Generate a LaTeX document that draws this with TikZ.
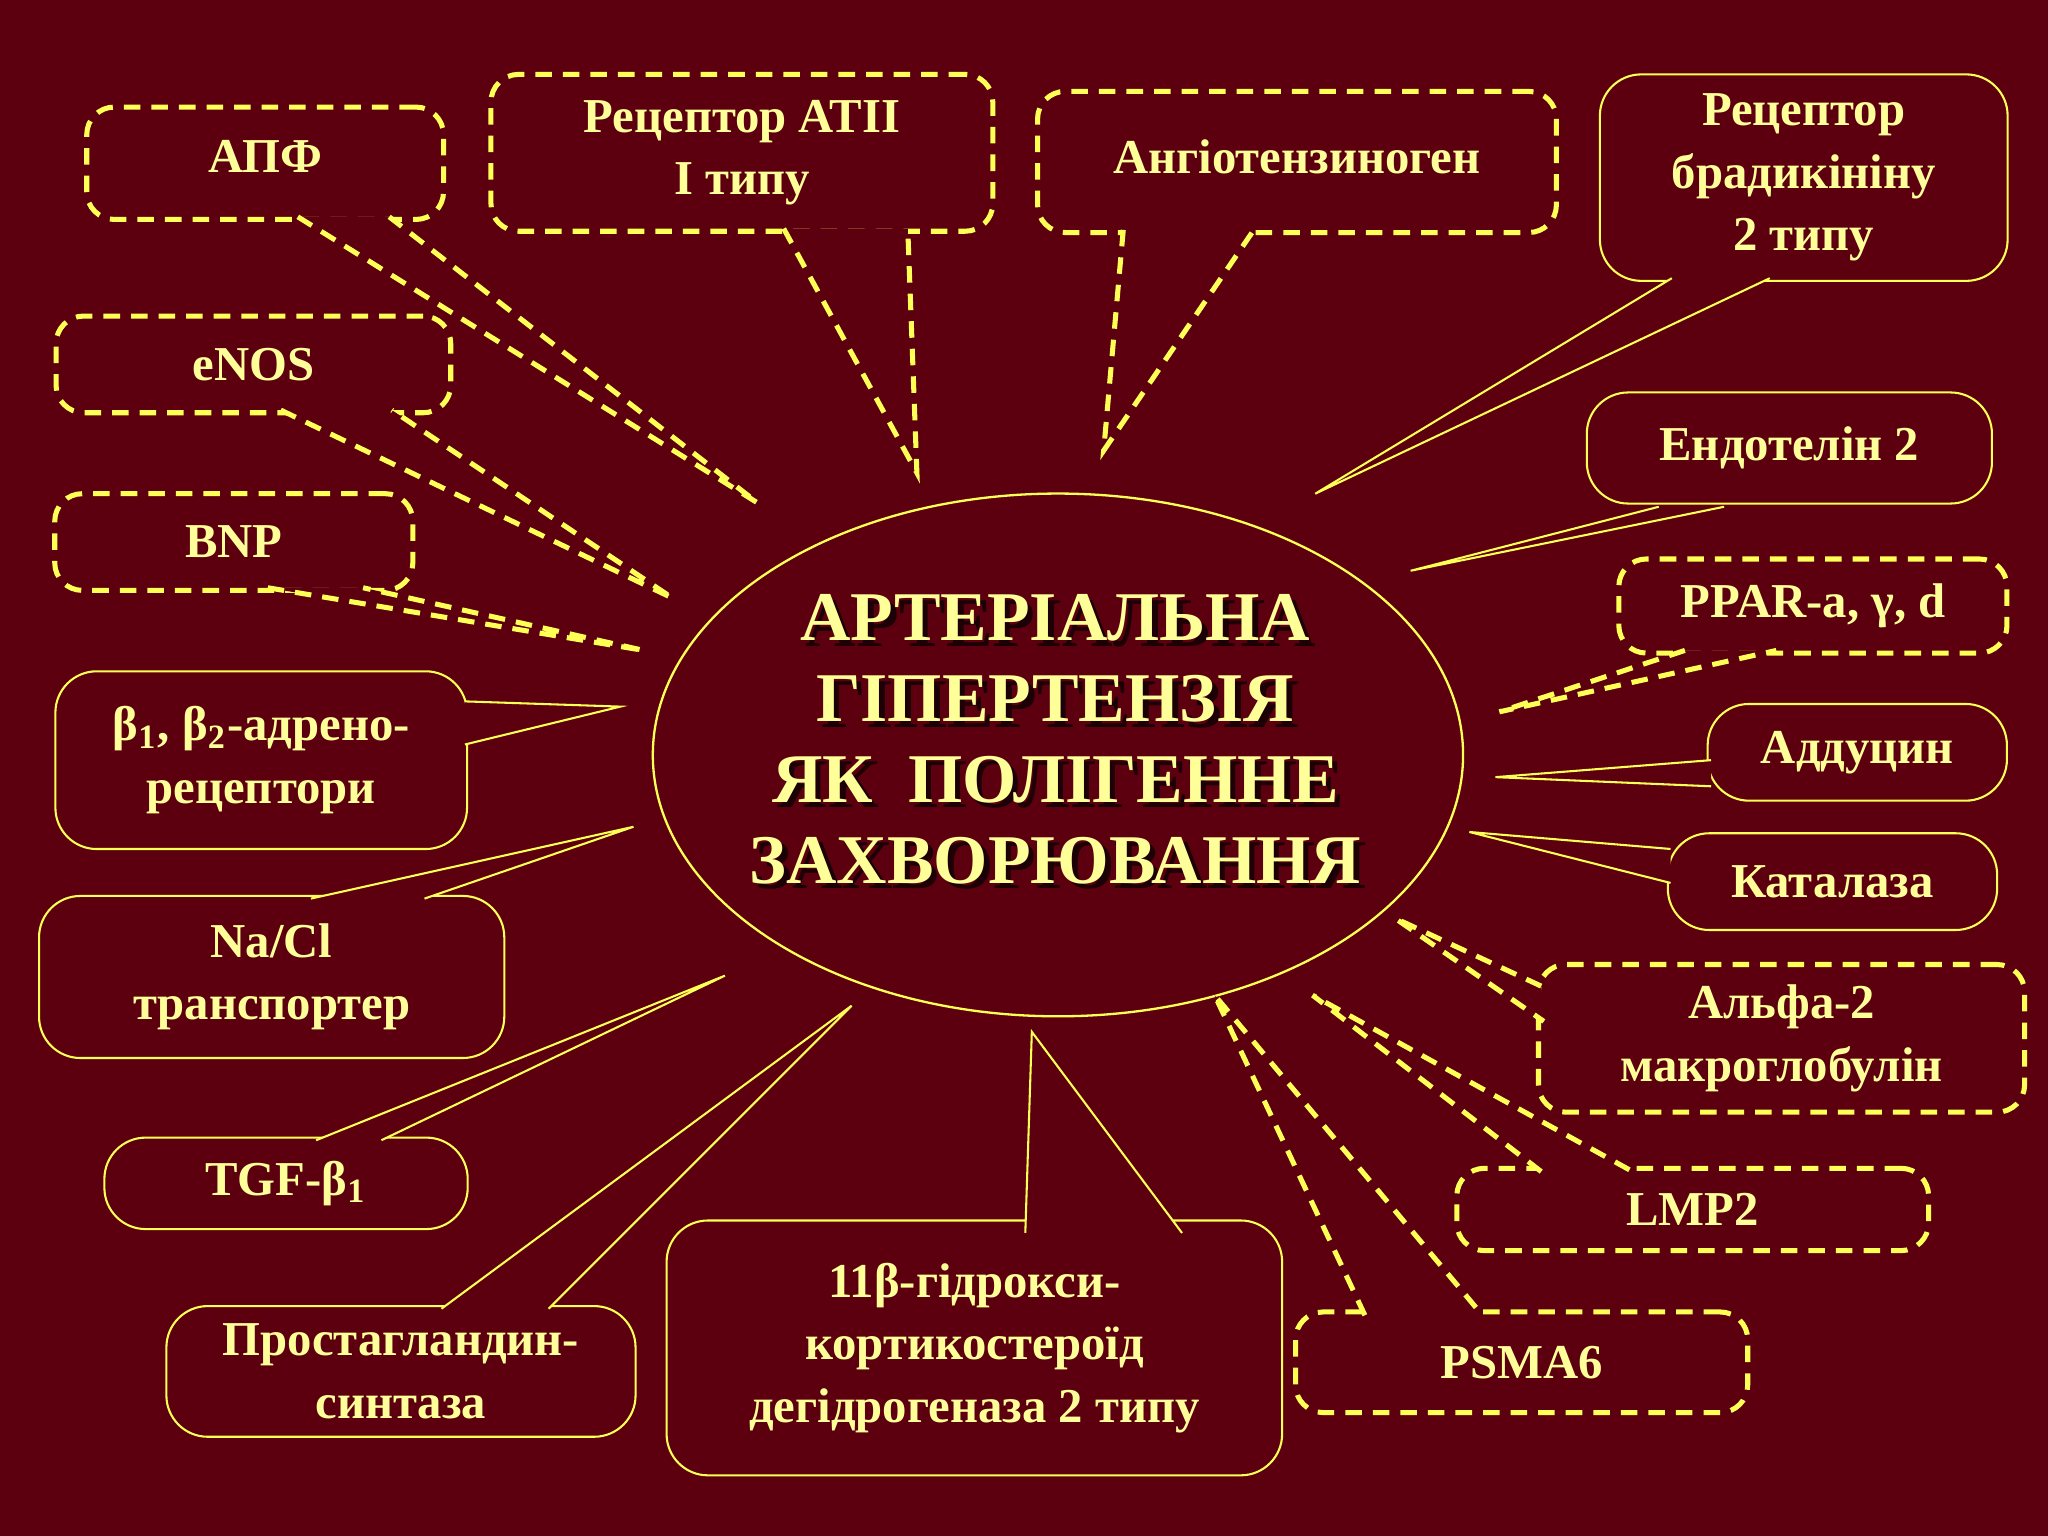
\documentclass[tikz,border=0pt]{standalone}
\usepackage{fontspec}
\setmainfont{Liberation Serif}
\usetikzlibrary{shapes.geometric}
\definecolor{bgc}{HTML}{5C0010}
\definecolor{yl}{HTML}{FFFF55}
\definecolor{tx}{HTML}{FFFF99}
\tikzset{
 sbox/.style={draw=yl, line width=0.45pt, rounded corners=9pt, fill=bgc, text=tx, font=\bfseries\fontsize{10.6}{13.6}\selectfont, align=center, inner sep=0pt},
 dbox/.style={sbox, line width=1.1pt, dash pattern=on 3.6pt off 2.4pt, rounded corners=6pt},
 sl/.style={draw=yl, line width=0.45pt},
 dl/.style={draw=yl, line width=1.1pt, dash pattern=on 3.6pt off 2.4pt},
}
\newcommand\mytail[4]{\fill[bgc] #2--#3--#4--cycle; \draw[#1] #2--#3--#4;}
\begin{document}
\begin{tikzpicture}[x=0.01cm,y=-0.01cm]
\fill[bgc] (0,0) rectangle (1568,1176);
\useasboundingbox (0,0) rectangle (1568,1176);
% centre
\node[draw=yl, line width=0.5pt, ellipse, minimum width=6.2cm, minimum height=4.0cm, inner sep=0pt] (c) at (810,578) {};
\foreach \s/\c in {1.2pt/black!70!bgc,0pt/tx}{
\node[text=\c, font=\bfseries\fontsize{15.2}{17.6}\selectfont, align=center, xshift=\s, yshift=-\s] (ct) at (808,566) {АРТЕРІАЛЬНА\\ГІПЕРТЕНЗІЯ\\ЯК\ \ ПОЛІГЕННЕ\\ЗАХВОРЮВАННЯ};}
% boxes
\node[dbox, minimum width=2.73cm, minimum height=0.86cm] (apf) at (203,125) {\raisebox{3pt}{АПФ}};
\node[dbox, minimum width=3.84cm, minimum height=1.2cm] (at2) at (568,117) {Рецептор АТІІ\\І типу};
\node[dbox, minimum width=3.97cm, minimum height=1.08cm] (ang) at (993,124) {Ангіотензиноген\\[-0.4cm]\mbox{}};
\node[sbox, minimum width=3.12cm, minimum height=1.58cm] (brad) at (1381,136) {Рецептор\\брадикініну\\2 типу};
\node[dbox, minimum width=3.02cm, minimum height=0.74cm] (enos) at (194,279) {eNOS};
\node[dbox, minimum width=2.74cm, minimum height=0.74cm] (bnp) at (179,415) {BNP};
\node[sbox, minimum width=3.15cm, minimum height=1.36cm] (beta) at (200,582) {β\textsubscript{1}, β\textsubscript{2}-адрено-\\рецептори};
\node[sbox, minimum width=3.56cm, minimum height=1.24cm] (nacl) at (208,748) {Na/Cl\\транспортер};
\node[sbox, minimum width=2.78cm, minimum height=0.70cm] (tgf) at (219,906) {TGF-β\textsubscript{1}};
\node[sbox, minimum width=3.59cm, minimum height=1.0cm] (pros) at (307,1050) {Простагландин-\\синтаза};
\node[sbox, minimum width=4.71cm, minimum height=1.95cm] (hsd) at (746,1032) {11β-гідрокси-\\кортикостероїд\\дегідрогеназа 2 типу};
\node[dbox, minimum width=3.46cm, minimum height=0.77cm] (psma) at (1165,1043) {PSMA6};
\node[dbox, minimum width=3.61cm, minimum height=0.63cm] (lmp) at (1296,926) {\raisebox{-5pt}{LMP2}};
\node[dbox, minimum width=3.72cm, minimum height=1.13cm] (alfa) at (1364,795) {Альфа-2\\макроглобулін};
\node[sbox, minimum width=2.52cm, minimum height=0.74cm] (kat) at (1403,675) {Каталаза};
\node[sbox, minimum width=2.29cm, minimum height=0.74cm] (add) at (1422,576) {Аддуцин};
\node[dbox, minimum width=2.97cm, minimum height=0.72cm] (ppar) at (1388,464) {PPAR-a, γ, d};
\node[sbox, minimum width=3.10cm, minimum height=0.85cm] (end) at (1370,343) {Ендотелін 2};
% tips
\coordinate (tapf) at (580,385);
\coordinate (tat2) at (702,362);
\coordinate (tang) at (845,345);
\coordinate (tbrad) at (1007,378);
\coordinate (tenos) at (515,458);
\coordinate (tbnp) at (493,498);
\coordinate (tbeta) at (475,541);
\coordinate (tnacl) at (485,633);
\coordinate (ttgf) at (555,747);
\coordinate (tpros) at (652,770);
\coordinate (thsd) at (790,790);
\coordinate (tpsma) at (930,762);
\coordinate (tlmp) at (1005,762);
\coordinate (talfa) at (1068,703);
\coordinate (tkat) at (1125,637);
\coordinate (tadd) at (1145,595);
\coordinate (tppar) at (1148,545);
\coordinate (tend) at (1080,437);
% tails
\mytail{dl}{(228,166)}{(tapf)}{(298,166)}
\mytail{dl}{(600,175)}{(tat2)}{(695,175)}
\mytail{dl}{(860,176)}{(tang)}{(960,176)}
\mytail{sl}{(1280,213)}{(tbrad)}{(1355,213)}
\mytail{dl}{(215,314)}{(tenos)}{(300,314)}
\mytail{dl}{(205,450)}{(tbnp)}{(278,450)}
\mytail{sl}{(356,537)}{(tbeta)}{(356,570)}
\mytail{sl}{(238,688)}{(tnacl)}{(325,688)}
\mytail{sl}{(242,873)}{(ttgf)}{(292,873)}
\mytail{sl}{(338,1002)}{(tpros)}{(420,1002)}
\mytail{sl}{(785,944)}{(thsd)}{(905,944)}
\mytail{dl}{(1045,1007)}{(tpsma)}{(1135,1007)}
\mytail{dl}{(1180,897)}{(tlmp)}{(1250,897)}
\mytail{dl}{(1180,755)}{(talfa)}{(1182,782)}
\mytail{sl}{(1279,650)}{(tkat)}{(1279,676)}
\mytail{sl}{(1310,582)}{(tadd)}{(1310,602)}
\mytail{dl}{(1290,498)}{(tppar)}{(1360,498)}
\mytail{sl}{(1270,388)}{(tend)}{(1320,388)}
\end{tikzpicture}
\end{document}
